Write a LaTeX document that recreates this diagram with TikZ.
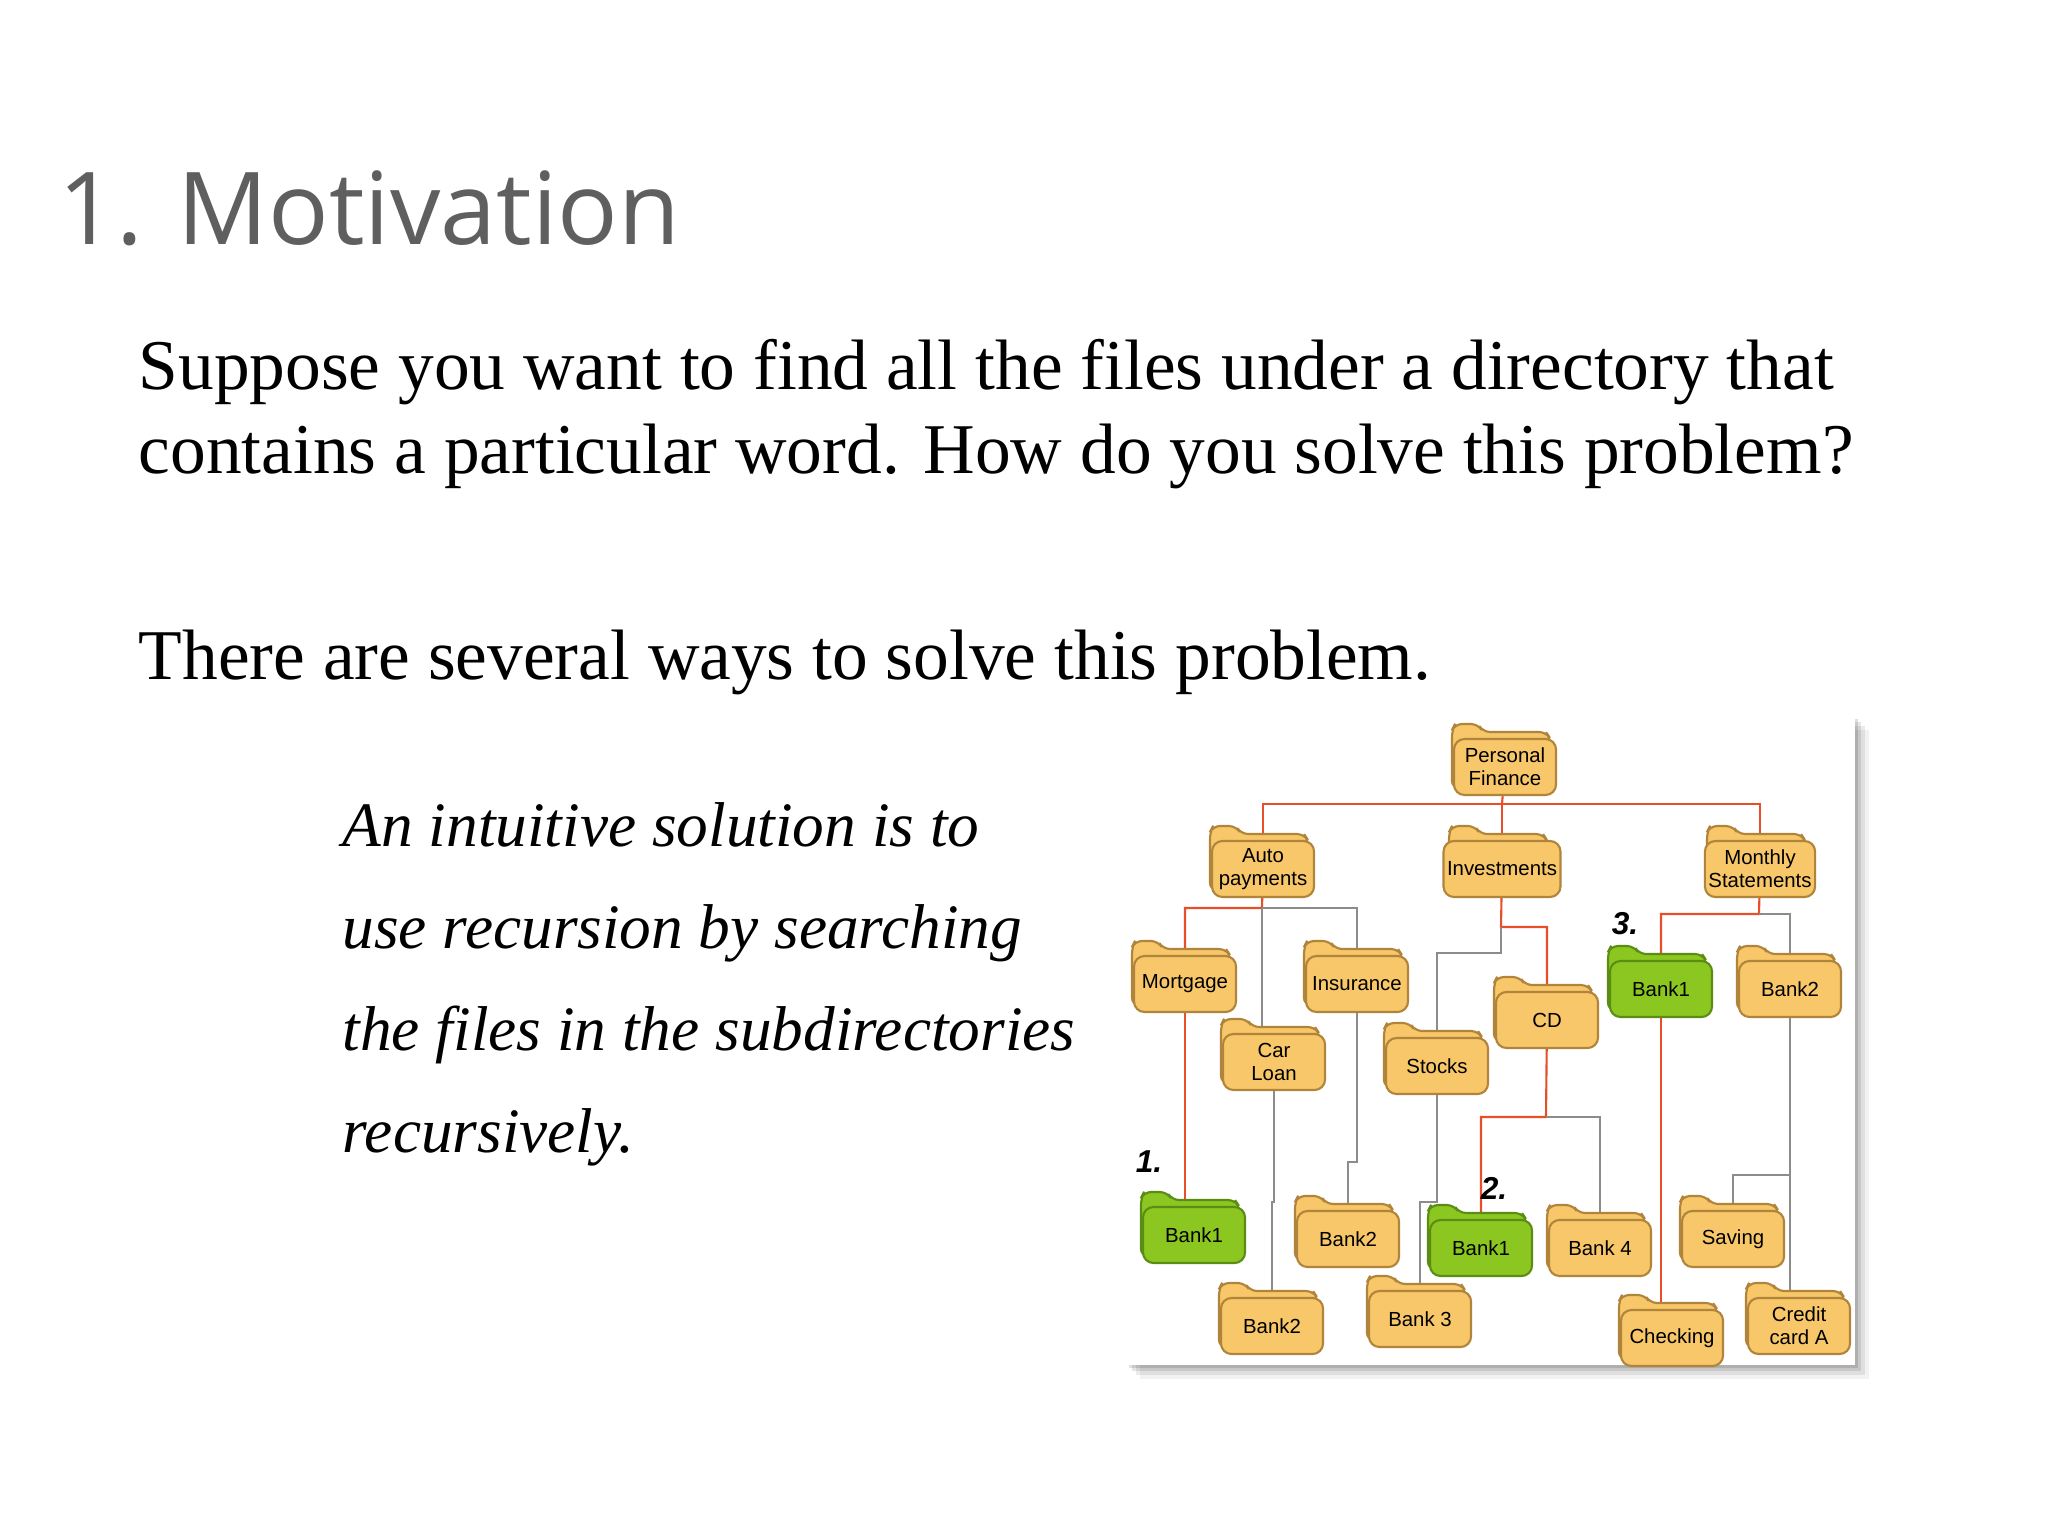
\documentclass[tikz,border=0pt]{standalone}
\usepackage{fontspec}
\setmainfont{Liberation Serif}
\setsansfont{Liberation Sans}
\newfontfamily\titlefont{Open Sans}
\usetikzlibrary{positioning,backgrounds}
\definecolor{titlegrey}{RGB}{95,95,95}
\definecolor{fold}{RGB}{247,199,106}
\definecolor{foldedge}{RGB}{176,132,58}
\definecolor{foldg}{RGB}{139,199,32}
\definecolor{foldgedge}{RGB}{92,140,20}
\definecolor{redline}{RGB}{232,78,40}
\definecolor{greyline}{RGB}{140,140,140}
\pgfdeclarelayer{links}
\pgfsetlayers{background,links,main}
\tikzset{
    body/.style={font=\fontsize{20.3}{24}\selectfont, anchor=base west, inner sep=0pt},
    folder/.style={rectangle, rounded corners=3, minimum width=1.02cm, minimum height=0.56cm,
        inner sep=1pt, align=center, line width=0.6pt,
        font=\sffamily\fontsize{5.8}{6.6}\selectfont},
    red link/.style={draw=redline, line width=0.6pt},
    grey link/.style={draw=greyline, line width=0.6pt},
    stepnum/.style={font=\sffamily\bfseries\itshape\fontsize{9}{9}\selectfont},
}
% folder: colour, name, x, y, text
\newcommand{\folder}[5][fold]{%
    \draw[draw=#1edge, fill=#1, line width=0.6pt, rounded corners=2]
        ({#3-50},{#4+28}) -- ({#3-50},{#4-30}) -- ({#3-47},{#4-36}) -- ({#3-24},{#4-36})
        -- ({#3-19},{#4-28}) -- ({#3+44},{#4-28}) -- ({#3+48},{#4-22}) -- ({#3+48},{#4+28}) -- cycle;
    \node[folder, draw=#1edge, fill=#1] (#2) at ({#3+3},{#4+7}) {#5};
}
\begin{document}
\begin{tikzpicture}[x=0.01cm, y=-0.01cm]
    \useasboundingbox (0,0) rectangle (2048,1536);

    % texts
    \node (title) [anchor=base west, inner sep=0pt, text=titlegrey,
        font=\titlefont\fontsize{28.6}{34}\selectfont] at (58,244) {1. Motivation};
    \node (line1) [body] at (138,389) {Suppose you want to find all the files under a directory that};
    \node (line2) [body] at (138,473) {contains a particular word. How do you solve this problem?};
    \node (line3) [body] at (138,679) {There are several ways to solve this problem.};
    \foreach \txt [count=\i] in {An intuitive solution is to, use recursion by searching,
        the files in the subdirectories, recursively.} {
        \node (idea\i) [body, font=\itshape\fontsize{18}{22}\selectfont] at (342,{846+102*(\i-1)}) {\txt};
    }

    % panel with shadow
    \begin{scope}[on background layer]
        \fill[white] (0,0) rectangle (2048,1536);
        \foreach \d/\o in {14/0.05,10/0.08,6/0.1,3/0.12} {
            \fill[black, opacity=\o] ({1126+\d},{716+\d}) rectangle ({1855+\d},{1365+\d});
        }
        \fill[white] (1126,716) rectangle (1855,1365);
    \end{scope}

    % folders
    \folder{pf}{1502}{760}{Personal\\Finance}
    \folder{auto}{1260}{862}{Auto\\payments}
    \folder{inv}{1499}{862}{Investments}
    \folder{mon}{1757}{862}{Monthly\\Statements}
    \folder{mort}{1182}{977}{Mortgage}
    \folder{ins}{1354}{977}{Insurance}
    \folder{car}{1271}{1055}{Car\\Loan}
    \folder{cd}{1544}{1013}{CD}
    \folder{stocks}{1434}{1059}{Stocks}
    \folder[foldg]{bankc}{1658}{982}{Bank1}
    \folder{bankd}{1787}{982}{Bank2}
    \folder[foldg]{banka}{1191}{1228}{Bank1}
    \folder{bankins}{1345}{1232}{Bank2}
    \folder[foldg]{bankb}{1478}{1241}{Bank1}
    \folder{bankfour}{1597}{1241}{Bank 4}
    \folder{saving}{1730}{1232}{Saving}
    \folder{bankcar}{1269}{1319}{Bank2}
    \folder{bankthree}{1417}{1312}{Bank 3}
    \folder{checking}{1669}{1331}{Checking}
    \folder{credit}{1796}{1319}{Credit\\card A}

    \node (one) [stepnum] at (1149,1162) {1.};
    \node (two) [stepnum] at (1494,1188) {2.};
    \node (three) [stepnum] at (1625,924) {3.};

    % links
    \begin{pgfonlayer}{links}
        \coordinate (jpf) at (1502,804);
        \coordinate (jauto) at (1262,908);
        \coordinate (jinv) at (1501,927);
        \coordinate (jmon) at (1759,914);
        \coordinate (jcd) at (1546,1117);
        \coordinate (jbankd) at (1789,1175);
        \draw[red link] (pf) -- (jpf);
        \draw[red link] (jpf) -| (auto);
        \draw[red link] (jpf) -| (inv);
        \draw[red link] (jpf) -| (mon);
        \draw[red link] (auto) -- (jauto) -| (mort);
        \draw[grey link] (jauto) -| (ins);
        \draw[grey link] (jauto) -- (jauto |- car);
        \draw[red link] (inv) -- (jinv) -| (cd);
        \draw[grey link] (jinv) |- (1437,953) -- (stocks);
        \draw[red link] (mon) -- (jmon) -| (bankc);
        \draw[grey link] (jmon) -| (bankd);
        \draw[red link] (mort) -- (mort |- banka);
        \draw[grey link] (car) -- (car |- 0,1202) -- (bankcar |- 0,1202) -- (bankcar);
        \draw[grey link] (ins) -- (ins |- 0,1162) -- (bankins |- 0,1162) -- (bankins);
        \draw[grey link] (stocks) -- (stocks |- 0,1202) -- (bankthree |- 0,1202) -- (bankthree);
        \draw[red link] (cd) -- (jcd) -| (bankb);
        \draw[grey link] (jcd) -| (bankfour);
        \draw[red link] (bankc) -- (bankc |- checking);
        \draw[grey link] (bankd) -- (bankd |- credit);
        \draw[grey link] (jbankd) -| (saving);
    \end{pgfonlayer}
\end{tikzpicture}
\end{document}
